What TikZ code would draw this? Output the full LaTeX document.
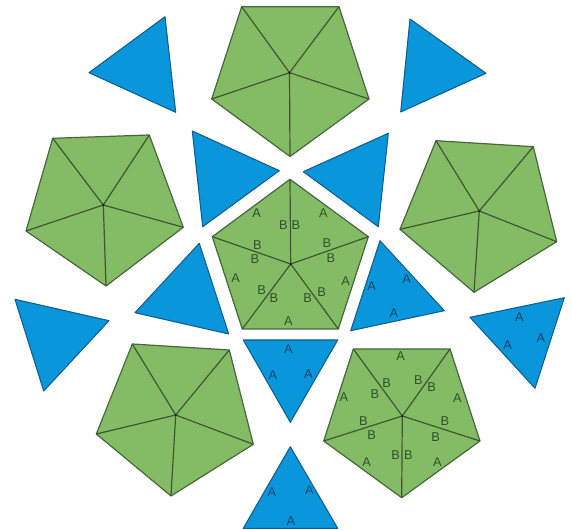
\documentclass[tikz,border=0pt]{standalone}
\usepackage{fontspec}
\setmainfont{Liberation Sans}
\definecolor{leaf}{HTML}{84BB65}
\definecolor{leafline}{HTML}{46683A}
\definecolor{leaftext}{HTML}{2F5229}
\definecolor{sky}{HTML}{0A96DA}
\definecolor{skyline}{HTML}{125E8E}
\definecolor{skytext}{HTML}{0F4670}
\tikzset{
  pent/.style={fill=leaf,draw=leafline,line width=0.9pt,line join=round},
  spoke/.style={draw=leafline!85!black,line width=0.9pt},
  tri/.style={fill=sky,draw=skyline,line width=0.8pt,line join=round},
  lg/.style={font=\fontsize{9.6}{9.6}\selectfont,text=leaftext,inner sep=0pt},
  lb/.style={font=\fontsize{9.6}{9.6}\selectfont,text=skytext,inner sep=0pt}
}
\newcommand{\pentagon}[6]{%
  \draw[pent] #1 -- #2 -- #3 -- #4 -- #5 -- cycle;
  \draw[spoke] #6 -- #1 #6 -- #2 #6 -- #3 #6 -- #4 #6 -- #5;
  \fill[black!70!leafline] #6 circle (1.1);
}
\newcommand{\triangl}[3]{\draw[tri] #1 -- #2 -- #3 -- cycle;}
\begin{document}
\begin{tikzpicture}[x=0.75pt,y=-0.75pt]
\useasboundingbox (0,0) rectangle (572,530);
% pentagons
\pentagon{(290,179.3)}{(368.3,236.7)}{(338.3,329)}{(242.3,329)}{(212.3,236.7)}{(290.7,264)}
\pentagon{(241.7,6.7)}{(339,6.7)}{(369,99)}{(290,156.5)}{(211.7,99)}{(289.5,72.7)}
\pentagon{(52.7,138.3)}{(149.3,135)}{(183.3,227.3)}{(106,286)}{(26,231)}{(103.3,205)}
\pentagon{(436,140.7)}{(533.3,146.7)}{(556.7,241.7)}{(474,292.3)}{(400,229.3)}{(479.3,211)}
\pentagon{(132.3,344)}{(229.3,350)}{(253.3,444.3)}{(171,496)}{(96.3,434)}{(175.7,415)}
\pentagon{(353.3,349)}{(450,349)}{(480,441)}{(401.7,497.7)}{(323.7,441)}{(402.3,416)}
% triangles
\triangl{(165,16.7)}{(89,72.7)}{(175.7,112.3)}
\triangl{(410,19)}{(486,73.3)}{(400.7,112)}
\triangl{(192.3,131)}{(279.3,170.7)}{(202.7,226.7)}
\triangl{(388.3,133.3)}{(303.3,171.7)}{(378.3,226.7)}
\triangl{(199.3,243.3)}{(135,312.7)}{(228.7,334)}
\triangl{(380,240.7)}{(444.3,310.7)}{(350.7,330.7)}
\triangl{(15,299.3)}{(109,320.7)}{(43.7,391)}
\triangl{(564.3,297.7)}{(470,317.3)}{(535,388.3)}
\triangl{(243.3,340)}{(337.7,340)}{(290.3,422.3)}
\triangl{(290.3,446.7)}{(243.3,528.3)}{(337.7,528.3)}
% centre pentagon labels
\foreach \x/\y/\t [count=\i] in {256.7/213.3/A,283.3/225/B,296/225/B,323.3/213.3/A,257.3/245/B,255/259.3/B,327/243.3/B,331/258.3/B,235.7/277.7/A,345.7/280.7/A,261.7/290/B,274/297.7/B,307.7/298.3/B,321.7/292.3/B,288.3/320.7/A}
  \node[lg] (c\i) at (\x,\y) {\t};
% lower right pentagon labels
\foreach \x/\y/\t [count=\i] in {400.7/355.7/A,386.7/382.7/B,418.3/380/B,431.7/387.3/B,375/394.3/B,344/396.7/A,457.3/397.7/A,363.3/420.7/B,445/420.7/B,371.7/435.3/B,435.7/436.7/B,395.7/454.7/B,408.3/454.7/B,366.7/461.7/A,437.3/462.3/A}
  \node[lg] (r\i) at (\x,\y) {\t};
% triangle labels
\foreach \x/\y/\t [count=\i] in {371.7/285.7/A,406.7/279/A,394/312.7/A,288.3/349.3/A,273/375.3/A,308.3/374.3/A,272/492/A,309.3/490.3/A,291/520.7/A,507.7/345.3/A,541/337.7/A,519.3/317/A}
  \node[lb] (t\i) at (\x,\y) {\t};
\end{tikzpicture}
\end{document}
